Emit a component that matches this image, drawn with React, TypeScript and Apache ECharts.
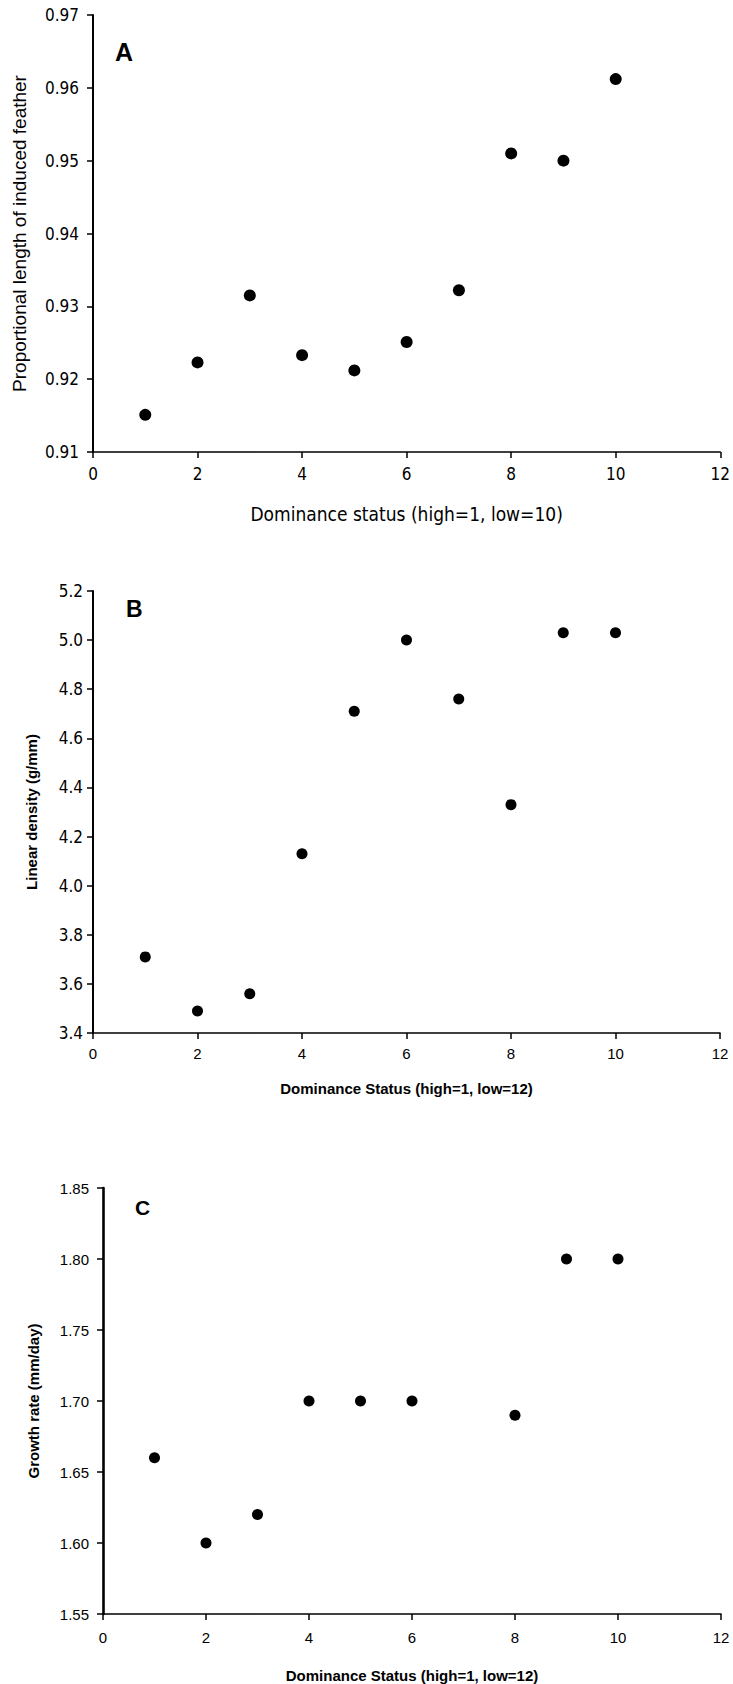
import React, { useEffect, useRef } from "react";
import * as echarts from "echarts";

// ---- data ----
const xRange = { min: 0, max: 12, interval: 2 };

const rankA = [1, 2, 3, 4, 5, 6, 7, 8, 9, 10];
const lengthA = [0.9151, 0.9223, 0.9315, 0.9233, 0.9212, 0.9251, 0.9322, 0.951, 0.95, 0.9612];

const rankB = [1, 2, 3, 4, 5, 6, 7, 8, 9, 10];
const densityB = [3.71, 3.49, 3.56, 4.13, 4.71, 5.0, 4.76, 4.33, 5.03, 5.03];

const rankC = [1, 2, 3, 4, 5, 6, 8, 9, 10];
const growthC = [1.66, 1.6, 1.62, 1.7, 1.7, 1.7, 1.69, 1.8, 1.8];

const panelLabels = ["A", "B", "C"];
const xTitles = [
  "Dominance status (high=1, low=10)",
  "Dominance Status (high=1, low=12)",
  "Dominance Status (high=1, low=12)",
];
const yTitles = [
  "Proportional length of induced feather",
  "Linear density (g/mm)",
  "Growth rate (mm/day)",
];

const NARROW = "'Liberation Sans Narrow', 'DejaVu Sans Condensed', 'Liberation Sans', Arial, sans-serif";
const ARIAL = "'Liberation Sans', Arial, sans-serif";

function pairs(xs: number[], ys: number[]) {
  return xs.map((x, i) => [x, ys[i]]);
}

export default function App() {
  const ref = useRef<HTMLDivElement>(null);

  useEffect(() => {
    document.body.style.margin = "0";
    if (!ref.current) return;
    const chart = echarts.init(ref.current, undefined, { renderer: "svg" });

    const grids = [
      { left: 93, top: 15, width: 628, height: 437 },
      { left: 93, top: 591, width: 627, height: 442 },
      { left: 103, top: 1188, width: 618, height: 426 },
    ];

    const axisLine = (w: number) => ({ show: true, lineStyle: { color: "#000", width: w } });

    const xAxisCommon = (i: number, font: string, size: number, margin: number, titleFont: string, titleSize: number, titleWeight: string, gap: number) => ({
      type: "value",
      gridIndex: i,
      min: xRange.min,
      max: xRange.max,
      interval: xRange.interval,
      axisLine: axisLine(1.6),
      axisTick: { show: true, inside: false, length: 6, lineStyle: { color: "#000", width: 1.5 } },
      axisLabel: { color: "#000", fontFamily: font, fontSize: size, margin },
      splitLine: { show: false },
      name: xTitles[i],
      nameLocation: "middle",
      nameGap: gap,
      nameTextStyle: { color: "#000", fontFamily: titleFont, fontSize: titleSize, fontWeight: titleWeight },
    });

    const marker = { color: "#000", opacity: 1 };

    const option: any = {
      animation: false,
      backgroundColor: "#fff",
      grid: grids,
      xAxis: [
        xAxisCommon(0, NARROW, 17, 13, NARROW, 19, "normal", 52),
        xAxisCommon(1, ARIAL, 15, 13, ARIAL, 15, "bold", 48),
        xAxisCommon(2, ARIAL, 15, 16, ARIAL, 15, "bold", 54),
      ],
      yAxis: [
        {
          type: "value",
          gridIndex: 0,
          min: 0.91,
          max: 0.97,
          interval: 0.01,
          axisLine: axisLine(2),
          axisTick: { show: true, length: 6, lineStyle: { color: "#000", width: 1.5 } },
          axisLabel: { color: "#000", fontFamily: NARROW, fontSize: 17, margin: 14, formatter: (v: number) => v.toFixed(2) },
          splitLine: { show: false },
          name: yTitles[0],
          nameLocation: "middle",
          nameGap: 64,
          nameTextStyle: { color: "#000", fontFamily: ARIAL, fontSize: 19 },
        },
        {
          type: "value",
          gridIndex: 1,
          min: 3.4,
          max: 5.2,
          interval: 0.2,
          axisLine: axisLine(2),
          axisTick: { show: true, length: 6, lineStyle: { color: "#000", width: 1.5 } },
          axisLabel: { color: "#000", fontFamily: NARROW, fontSize: 17, margin: 10, formatter: (v: number) => v.toFixed(1) },
          splitLine: { show: false },
          name: yTitles[1],
          nameLocation: "middle",
          nameGap: 54,
          nameTextStyle: { color: "#000", fontFamily: ARIAL, fontSize: 15, fontWeight: "bold" },
        },
        {
          type: "value",
          gridIndex: 2,
          min: 1.55,
          max: 1.85,
          interval: 0.05,
          axisLine: axisLine(2.6),
          axisTick: { show: true, length: 6, lineStyle: { color: "#000", width: 1.5 } },
          axisLabel: { color: "#000", fontFamily: ARIAL, fontSize: 15, margin: 14, formatter: (v: number) => v.toFixed(2) },
          splitLine: { show: false },
          name: yTitles[2],
          nameLocation: "middle",
          nameGap: 62,
          nameTextStyle: { color: "#000", fontFamily: ARIAL, fontSize: 15, fontWeight: "bold" },
        },
      ],
      series: [
        {
          type: "scatter",
          xAxisIndex: 0,
          yAxisIndex: 0,
          data: pairs(rankA, lengthA),
          symbol: "circle",
          symbolSize: 12,
          itemStyle: marker,
        },
        {
          type: "scatter",
          xAxisIndex: 1,
          yAxisIndex: 1,
          data: pairs(rankB, densityB),
          symbol: "circle",
          symbolSize: 11,
          itemStyle: marker,
        },
        {
          type: "scatter",
          xAxisIndex: 2,
          yAxisIndex: 2,
          data: pairs(rankC, growthC),
          symbol: "circle",
          symbolSize: 11,
          itemStyle: marker,
        },
      ],
      graphic: [
        { type: "text", left: 115, top: 39, style: { text: panelLabels[0], font: "bold 25px " + ARIAL, fill: "#000" } },
        { type: "text", left: 126, top: 597, style: { text: panelLabels[1], font: "bold 23px " + ARIAL, fill: "#000" } },
        { type: "text", left: 135, top: 1197, style: { text: panelLabels[2], font: "bold 21px " + ARIAL, fill: "#000" } },
      ],
    };

    chart.setOption(option);
    return () => chart.dispose();
  }, []);

  return <div ref={ref} style={{ width: 733, height: 1684 }} />;
}
